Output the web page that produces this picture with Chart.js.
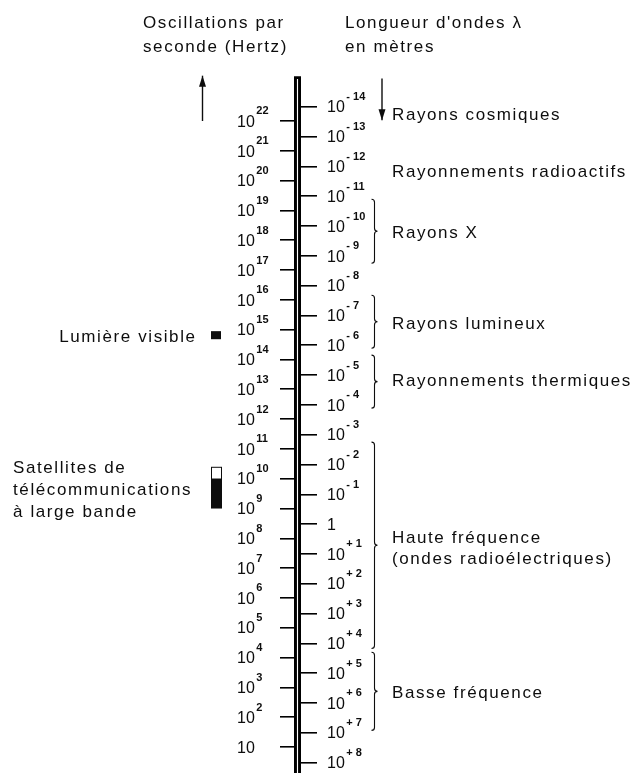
<!DOCTYPE html>
<html><head><meta charset="utf-8">
<script src="https://cdn.jsdelivr.net/npm/chart.js@4/dist/chart.umd.min.js"></script>
<style>html,body{margin:0;padding:0;background:#fff}#c{display:block}</style>
</head><body>
<canvas id="c" width="637" height="773"></canvas>
<script>
// ---- data (log10 values) ----
const hzExponents = [22,21,20,19,18,17,16,15,14,13,12,11,10,9,8,7,6,5,4,3,2,1];
const lambdaExponents = [-14,-13,-12,-11,-10,-9,-8,-7,-6,-5,-4,-3,-2,-1,0,1,2,3,4,5,6,7,8];
const spectrumTopHz = 23.49;
const stripeTopHz = 23.41;
const bandNames = ['Rayons cosmiques','Rayonnements radioactifs','Rayons X','Rayons lumineux','Rayonnements thermiques','Haute fréquence|(ondes radioélectriques)','Basse fréquence'];
const bandLabelLambda = [-13.77,-11.83,-9.81,-6.76,-4.83,0.77,5.64];
const braceStartLambda = [null,null,-10.9,-7.68,-5.67,-2.75,4.30];
const braceEndLambda = [null,null,-8.75,-5.90,-3.89,4.17,6.92];
const visibleLightHz = [14.68,14.95];
const satelliteHz = [9.0,10.0];
const satelliteUpperHz = [10.0,10.4];
const upArrowHz = [22.0,23.52];
const downArrowLambda = [-14.95,-13.55];
const titleLeft = ['Oscillations par','seconde (Hertz)'];
const titleRight = ['Longueur d\'ondes λ','en mètres'];
const visibleLabel = 'Lumière visible';
const satelliteLabel = ['Satellites de','télécommunications','à large bande'];

const LOG_C = Math.log10(2.998e8);
const HZ_MIN = 0.128, HZ_MAX = 26.059;

const INK = '#0d0d0d';
const FONT = '"Liberation Sans", Arial, sans-serif';
const LS = 1.6;

function hzLabel(e){ return e === 1 ? ['10',''] : ['10', String(e)]; }
function lamLabel(k){ return k === 0 ? ['1',''] : ['10', (k < 0 ? '- ' : '+ ') + Math.abs(k)]; }

const decor = {
  id: 'decor',
  afterDraw(chart){
    const c = chart.ctx, yH = chart.scales.yHz, yL = chart.scales.yLam;
    c.save();
    c.fillStyle = INK; c.strokeStyle = INK;
    c.textBaseline = 'alphabetic';

    const tickLabel = (parts, x, y) => {
      c.letterSpacing = '0px';
      c.textAlign = 'left';
      c.font = '16px ' + FONT;
      c.fillText(parts[0], x, y + 5.7);
      const w = c.measureText(parts[0]).width;
      if (parts[1]) {
        c.font = 'bold 11px ' + FONT;
        c.fillText(parts[1], x + w + 1.5, y - 6.5);
      }
    };
    hzExponents.forEach(e => tickLabel(hzLabel(e), 237, yH.getPixelForValue(e)));
    lambdaExponents.forEach(k => tickLabel(lamLabel(k), 327, yL.getPixelForValue(k)));

    // text helper
    const txt = (s, x, yc, align) => {
      c.font = '17px ' + FONT;
      c.letterSpacing = LS + 'px';
      c.textAlign = align || 'left';
      c.fillText(s, align === 'right' ? x + LS : x, yc + 6);
    };

    // titles
    txt(titleLeft[0], 143, 22); txt(titleLeft[1], 143, 46);
    txt(titleRight[0], 345, 22); txt(titleRight[1], 345, 46);

    // arrows
    const arrow = (x, yFrom, yTo) => {
      c.lineWidth = 1.4;
      c.beginPath(); c.moveTo(x, yFrom); c.lineTo(x, yTo); c.stroke();
      const dir = Math.sign(yTo - yFrom);
      c.beginPath();
      c.moveTo(x, yTo); c.lineTo(x - 3.5, yTo - dir * 11); c.lineTo(x + 3.5, yTo - dir * 11); c.closePath(); c.fill();
    };
    arrow(202.5, yH.getPixelForValue(upArrowHz[0]), yH.getPixelForValue(upArrowHz[1]));
    arrow(382, yL.getPixelForValue(downArrowLambda[0]), yL.getPixelForValue(downArrowLambda[1]));

    // braces and band labels
    const brace = (y1, y2) => {
      const x = 374.5, ym = (y1 + y2) / 2;
      c.lineWidth = 1.1;
      c.beginPath();
      c.moveTo(x - 3, y1);
      c.quadraticCurveTo(x, y1, x, y1 + 3);
      c.lineTo(x, ym - 3);
      c.quadraticCurveTo(x, ym, x + 3, ym);
      c.quadraticCurveTo(x, ym, x, ym + 3);
      c.lineTo(x, y2 - 3);
      c.quadraticCurveTo(x, y2, x - 3, y2);
      c.stroke();
    };
    bandNames.forEach((name, i) => {
      if (braceStartLambda[i] !== null) brace(yL.getPixelForValue(braceStartLambda[i]), yL.getPixelForValue(braceEndLambda[i]));
      const yc = yL.getPixelForValue(bandLabelLambda[i]);
      const lines = name.split('|');
      const lh = 21;
      lines.forEach((ln, j) => txt(ln, 392, yc + (j - (lines.length - 1) / 2) * lh));
    });

    // visible light marker
    const xm0 = 211, xm1 = 221;
    const v0 = yH.getPixelForValue(visibleLightHz[1]), v1 = yH.getPixelForValue(visibleLightHz[0]);
    c.fillRect(xm0, v0, xm1 - xm0, v1 - v0);
    txt(visibleLabel, 195, (v0 + v1) / 2 + 1, 'right');

    // satellites marker
    const s0 = yH.getPixelForValue(satelliteHz[1]), s1 = yH.getPixelForValue(satelliteHz[0]);
    const u0 = yH.getPixelForValue(satelliteUpperHz[1]);
    c.fillRect(xm0, s0, xm1 - xm0 + 1, s1 - s0);
    c.lineWidth = 1;
    c.strokeRect(xm0 + 0.5, u0 + 0.5, xm1 - xm0, s0 - u0);
    const sc = (u0 + s1) / 2 + 1.5;
    satelliteLabel.forEach((ln, j) => txt(ln, 13, sc + (j - 1) * 22));

    c.restore();
  }
};

new Chart(document.getElementById('c'), {
  type: 'bar',
  data: {
    labels: ['spectre'],
    datasets: [
      {data: [[HZ_MIN, spectrumTopHz]], backgroundColor: '#000', barPercentage: 1, categoryPercentage: 1, grouped: false, yAxisID: 'yHz', order: 2},
      {data: [[HZ_MIN, stripeTopHz]], backgroundColor: '#fff', barPercentage: 0.16, categoryPercentage: 1, grouped: false, yAxisID: 'yHz', order: 1}
    ]
  },
  options: {
    responsive: false, devicePixelRatio: 1, animation: false, events: [],
    layout: {padding: 0},
    plugins: {legend: {display: false}, tooltip: {enabled: false}},
    scales: {
      x: {display: false},
      yHz: {
        type: 'linear', position: 'left', min: HZ_MIN, max: HZ_MAX,
        afterBuildTicks(s){ s.ticks = hzExponents.map(v => ({value: v})); },
        ticks: {display: false, autoSkip: false},
        grid: {drawOnChartArea: false, drawTicks: true, tickLength: 14, color: '#000', lineWidth: 1.6},
        border: {display: false},
        afterFit(s){ s.width = 294; }
      },
      yLam: {
        type: 'linear', position: 'right', reverse: true, min: LOG_C - HZ_MAX, max: LOG_C - HZ_MIN,
        afterBuildTicks(s){ s.ticks = lambdaExponents.map(v => ({value: v})); },
        ticks: {display: false, autoSkip: false},
        grid: {drawOnChartArea: false, drawTicks: true, tickLength: 16, color: '#000', lineWidth: 1.6},
        border: {display: false},
        afterFit(s){ s.width = 336; }
      }
    }
  },
  plugins: [decor]
});
</script>
</body></html>
